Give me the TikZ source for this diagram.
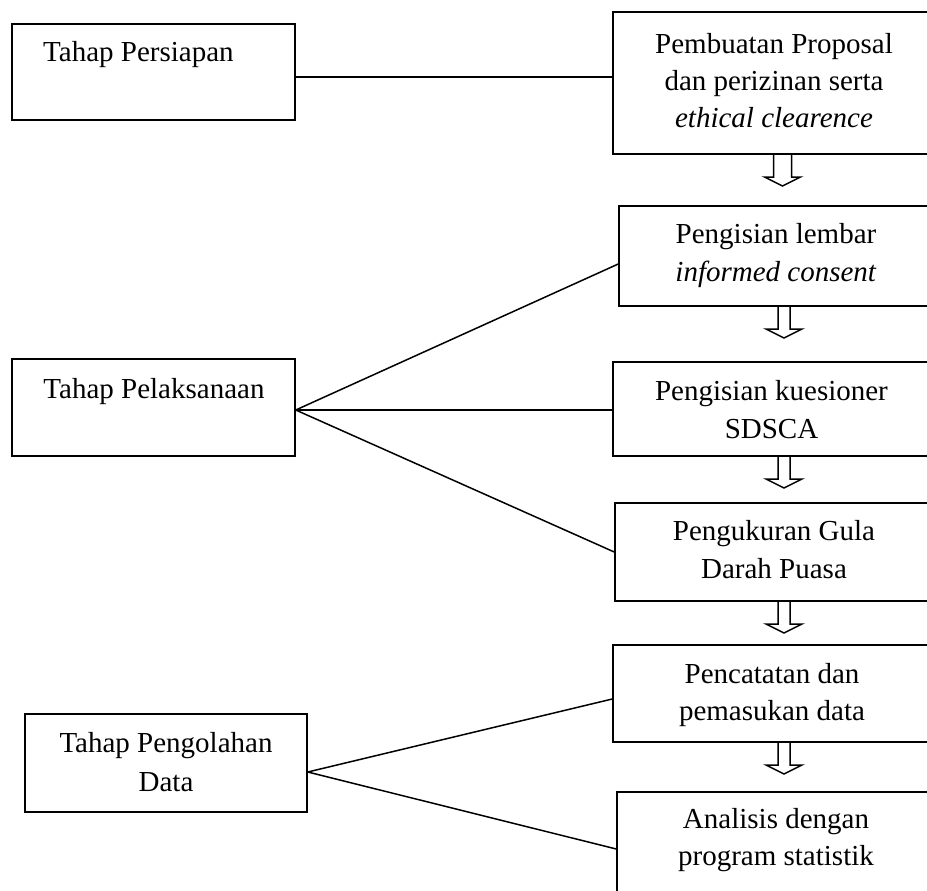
\documentclass[tikz,border=0pt]{standalone}
\usepackage{fontspec}
\setmainfont{Liberation Serif}
\begin{document}
\begin{tikzpicture}[x=1pt,y=-1pt,
  box/.style={draw, line width=1.5pt, inner sep=0pt},
  txt/.style={font=\fontsize{29}{38}\selectfont, inner sep=0pt, anchor=base},
  conn/.style={line width=1.5pt},
  pics/downarrow/.style={code={
    \draw[line width=1.5pt, line join=miter] (-#1,0) -- (-#1,23) -- (-18,23) -- (0,32) -- (18,23) -- (#1,23) -- (#1,0);}},
  pics/downarrow/.default=6]
\useasboundingbox (0,0) rectangle (927,891);
\clip (0,0) rectangle (927,891);
% left boxes
\node[box, minimum width=283pt, minimum height=96pt] (b1) at (153.5,72) {};
\node[box, minimum width=283pt, minimum height=97pt] (b2) at (153.5,407.5) {};
\node[box, minimum width=282pt, minimum height=98pt] (b3) at (166,763) {};
% right boxes
\node[box, minimum width=322pt, minimum height=142pt] (r1) at (774,83) {};
\node[box, minimum width=316pt, minimum height=100pt] (r2) at (777,256) {};
\node[box, minimum width=322pt, minimum height=94pt] (r3) at (774,409) {};
\node[box, minimum width=320pt, minimum height=98pt] (r4) at (775,552) {};
\node[box, minimum width=322pt, minimum height=97pt] (r5) at (774,693.5) {};
\node[box, minimum width=318pt, minimum height=108pt] (r6) at (776,846) {};
% texts
\node[txt, anchor=base west] (t1) at (43,62) {Tahap Persiapan};
\node[txt] (t2) at (154,398) {Tahap Pelaksanaan};
\node[txt] (t3a) at (166,752) {Tahap Pengolahan};
\node[txt] (t3b) at (166,791) {Data};
\node[txt] (u1a) at (774,54) {Pembuatan Proposal};
\node[txt] (u1b) at (774,91) {dan perizinan serta};
\node[txt] (u1c) at (774,128) {\textit{ethical clearence}};
\node[txt] (u2a) at (776,243) {Pengisian lembar};
\node[txt] (u2b) at (776,281) {\textit{informed consent}};
\node[txt] (u3a) at (771.5,400) {Pengisian kuesioner};
\node[txt] (u3b) at (771.5,438) {SDSCA};
\node[txt] (u4a) at (774,540) {Pengukuran Gula};
\node[txt] (u4b) at (774,578) {Darah Puasa};
\node[txt] (u5a) at (772,683) {Pencatatan dan};
\node[txt] (u5b) at (772,720) {pemasukan data};
\node[txt] (u6a) at (776,828) {Analisis dengan};
\node[txt] (u6b) at (776,865) {program statistik};
% connectors
\coordinate (f1) at ([yshift=-5pt]b1.east);
\coordinate (f2) at ([yshift=-2.5pt]b2.east);
\coordinate (f3) at ([yshift=-9pt]b3.east);
\draw[conn] (f1) -- (f1 -| r1.west);
\draw[conn] (f2) -- ([yshift=-8pt]r2.west);
\draw[conn] (f2) -- (f2 -| r3.west);
\draw[conn] (f2) -- (r4.west);
\draw[conn] (f3) -- ([yshift=-5.5pt]r5.west);
\draw[conn] (f3) -- ([yshift=-3pt]r6.west);
% hollow arrows
\pic at (782.5,154) {downarrow=9};
\pic at (784,306) {downarrow};
\pic at (784,456) {downarrow};
\pic at (784,601) {downarrow};
\pic at (784,742) {downarrow};
\end{tikzpicture}
\end{document}
